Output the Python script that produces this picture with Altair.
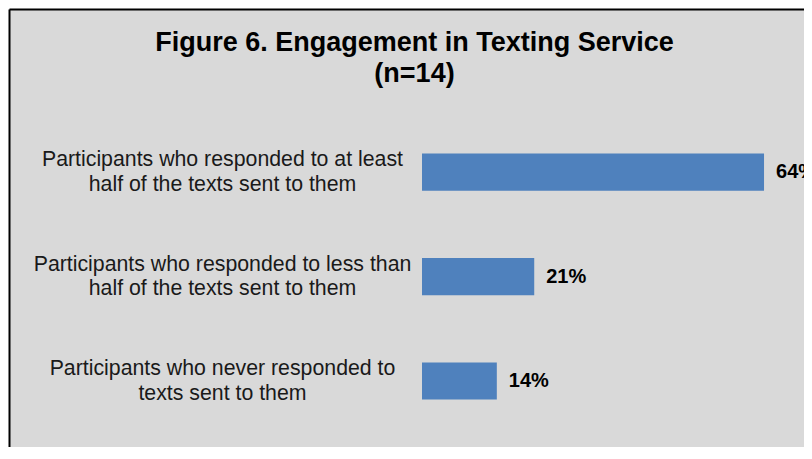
import altair as alt
import pandas as pd

categories = [
    "Participants who responded to at least\nhalf of the texts sent to them",
    "Participants who responded to less than\nhalf of the texts sent to them",
    "Participants who never responded to\ntexts sent to them",
]
values = [64, 21, 14]
value_labels = ["64%", "21%", "14%"]
title_lines = ["Figure 6. Engagement in Texting Service", "(n=14)"]

df = pd.DataFrame({"cat": categories, "val": values, "lbl": value_labels})

FONT = "Liberation Sans"
X_SCALE = alt.Scale(domain=[-77.28, 71.48], nice=False, zero=False)

y_enc = alt.Y(
    "cat:N",
    sort=categories,
    title=None,
    scale=alt.Scale(paddingInner=0.644, paddingOuter=0.918, align=0.753),
    axis=alt.Axis(
        ticks=False,
        tickSize=0,
        domain=True,
        domainColor="black",
        domainWidth=2,
        grid=False,
        labelAlign="center",
        labelBaseline="middle",
        labelPadding=-213,
        labelOffset=-12,
        labelFont=FONT,
        labelFontSize=21.3,
        labelLineHeight=24.5,
        labelColor="#1a1a1a",
        labelLimit=0,
        labelExpr="split(datum.label, '\\n')",
    ),
)
x_enc = alt.X(
    "val:Q",
    title=None,
    scale=X_SCALE,
    axis=alt.Axis(
        orient="top",
        domain=True,
        domainColor="black",
        domainWidth=2,
        ticks=False,
        labels=False,
        grid=False,
        title=None,
    ),
)

bars = alt.Chart(df).mark_bar(color="#4f81bd").encode(x=x_enc, y=y_enc)
texts = alt.Chart(df).mark_text(
    align="left", baseline="middle", dx=12, font=FONT, fontSize=20,
    fontWeight="bold", color="black"
).encode(
    x=alt.X("val:Q", scale=X_SCALE),
    y=alt.Y("cat:N", sort=categories),
    text="lbl:N",
)

chart = (
    alt.layer(bars, texts)
    .properties(
        width=795,
        height=438,
        autosize=alt.AutoSizeParams(type="none"),
        padding={"left": 1, "top": 1, "right": 0, "bottom": 0},
        background="white",
        title=alt.TitleParams(
            text=title_lines,
            font=FONT,
            fontSize=27,
            fontWeight="bold",
            lineHeight=31,
            color="black",
            anchor="middle",
            frame="group",
            baseline="top",
            offset=-79,
            dx=8,
        ),
    )
    .configure_view(fill="#d9d9d9", stroke=None, strokeWidth=0)
)

chart.save("out.html", embed_options={"renderer": "svg", "actions": False})
